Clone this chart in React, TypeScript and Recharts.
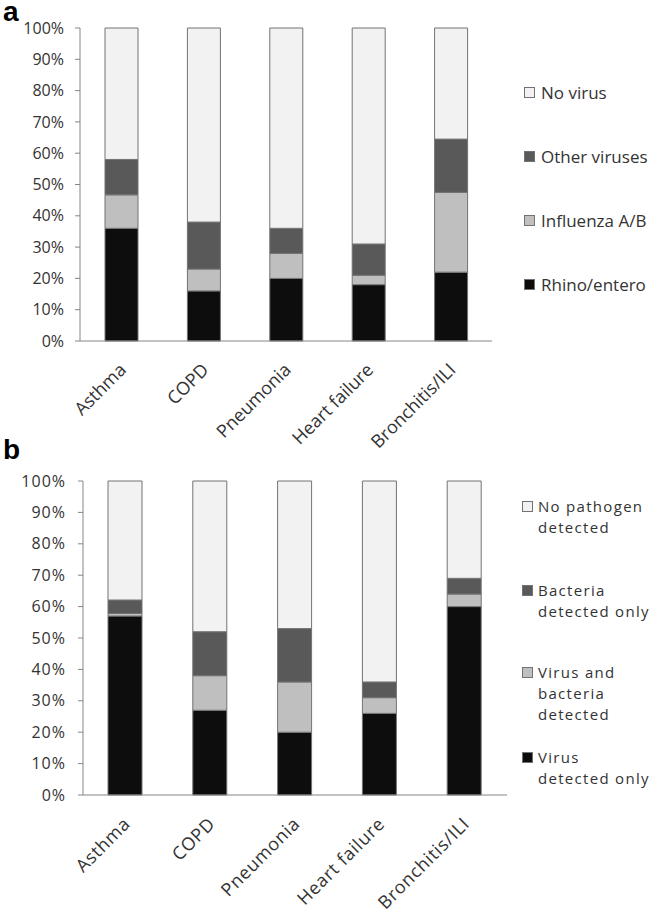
import React from "react";
import { BarChart, Bar, XAxis, YAxis } from "recharts";

const categories = ["Asthma", "COPD", "Pneumonia", "Heart failure", "Bronchitis/ILI"];

// panel a: virus type, percent of patients
const rhinoEntero = [36, 16, 20, 18, 22];
const influenzaAB = [10.7, 7, 8, 3, 25.5];
const otherViruses = [11.3, 15, 8, 10, 17];
const noVirus = [42, 62, 64, 69, 35.5];

// panel b: pathogen detection
const virusOnly = [57, 27, 20, 26, 60];
const virusAndBacteria = [0.8, 11, 16, 5, 4];
const bacteriaOnly = [4.3, 14, 17, 5, 5];
const noPathogen = [37.9, 48, 47, 64, 31];

const yTicks = [0, 10, 20, 30, 40, 50, 60, 70, 80, 90, 100];
const boundaryTicks = [0, 1, 2, 3, 4, 5];

const seriesA = [
  { key: "rhino", name: "Rhino/entero", values: rhinoEntero, color: "#0d0d0d" },
  { key: "flu", name: "Influenza A/B", values: influenzaAB, color: "#bfbfbf" },
  { key: "other", name: "Other viruses", values: otherViruses, color: "#595959" },
  { key: "none", name: "No virus", values: noVirus, color: "#f2f2f2" },
];

const seriesB = [
  { key: "vo", name: ["Virus", "detected only"], values: virusOnly, color: "#0d0d0d" },
  { key: "vb", name: ["Virus and", "bacteria", "detected"], values: virusAndBacteria, color: "#bfbfbf" },
  { key: "bo", name: ["Bacteria", "detected only"], values: bacteriaOnly, color: "#595959" },
  { key: "np", name: ["No pathogen", "detected"], values: noPathogen, color: "#f2f2f2" },
];

const font = "'Open Sans', sans-serif";
const axisColor = "#868686";
const textColor = "#333";

function toRows(series: { key: string; values: number[] }[]) {
  return categories.map((cat, i) => {
    const row: Record<string, string | number> = { cat, idx: i + 0.5 };
    series.forEach((s) => (row[s.key] = s.values[i]));
    return row;
  });
}

function Panel({
  series,
  height,
  top,
  yAxisW,
  right,
  barSize,
  spacing,
  xSpacing,
  yMargin,
}: {
  series: { key: string; color: string; values: number[] }[];
  height: number;
  top: number;
  yAxisW: number;
  right: number;
  barSize: number;
  spacing: number;
  xSpacing: number;
  yMargin: number;
}) {
  const data = toRows(series);
  const yTickStyle = { fontFamily: font, fontSize: 16, fill: textColor, letterSpacing: spacing };
  const xTickStyle = { fontFamily: font, fontSize: 18, fill: textColor, letterSpacing: xSpacing };
  return (
    <BarChart
      width={653}
      height={height}
      data={data}
      margin={{ top, right, bottom: 0, left: 0 }}
      barSize={barSize}
    >
      <XAxis
        xAxisId="bounds"
        type="number"
        dataKey="idx"
        domain={[0, 5]}
        ticks={boundaryTicks}
        height={0}
        tick={false}
        tickSize={5}
        axisLine={false}
        stroke={axisColor}
      />
      <XAxis
        dataKey="cat"
        interval={0}
        height={119}
        angle={-45}
        textAnchor="end"
        tickLine={false}
        axisLine={{ stroke: axisColor }}
        tick={{ ...xTickStyle, dx: -3 }}
        tickMargin={15}
      />
      <YAxis
        width={yAxisW}
        domain={[0, 100]}
        ticks={yTicks}
        tickFormatter={(v) => `${v}%`}
        tickSize={5}
        tickMargin={yMargin}
        stroke={axisColor}
        tick={yTickStyle}
        interval={0}
      />
      {series.map((s) => (
        <Bar
          key={s.key}
          dataKey={s.key}
          stackId="s"
          fill={s.color}
          stroke="#737373"
          strokeWidth={1}
          isAnimationActive={false}
        />
      ))}
    </BarChart>
  );
}

function LegendA() {
  const items = [...seriesA].reverse();
  return (
    <div style={{ position: "absolute", left: 524, top: 80, fontFamily: font, fontSize: 17, color: textColor }}>
      {items.map((s) => (
        <div key={s.key} style={{ display: "flex", alignItems: "center", height: 24, marginBottom: 40 }}>
          <span
            style={{
              width: 11,
              height: 11,
              background: s.color,
              border: "1px solid #737373",
              marginRight: 6,
              boxSizing: "border-box",
            }}
          />
          <span>{s.name}</span>
        </div>
      ))}
    </div>
  );
}

function LegendB() {
  const items = [...seriesB].reverse();
  const tops = [496, 580, 662, 747];
  return (
    <>
      {items.map((s, i) => (
        <div
          key={s.key}
          style={{
            position: "absolute",
            left: 522,
            top: tops[i],
            fontFamily: font,
            fontSize: 15,
            letterSpacing: 1.3,
            lineHeight: "21px",
            color: textColor,
            display: "flex",
          }}
        >
          <span
            style={{
              width: 11,
              height: 11,
              background: s.color,
              border: "1px solid #737373",
              marginRight: 5,
              marginTop: 5,
              boxSizing: "border-box",
              flex: "none",
            }}
          />
          <div>
            {s.name.map((line) => (
              <div key={line}>{line}</div>
            ))}
          </div>
        </div>
      ))}
    </>
  );
}

const panelLabel: React.CSSProperties = {
  position: "absolute",
  left: 3,
  fontFamily: "'Liberation Sans', Arial, sans-serif",
  fontWeight: 700,
  fontSize: 28,
  lineHeight: "24px",
};

export default function App() {
  return (
    <div style={{ position: "absolute", left: 0, top: 0, width: 653, height: 914, background: "#fff" }}>
      <div style={{ position: "absolute", left: 0, top: 0 }}>
        <Panel series={seriesA} height={460} top={28} yAxisW={80} right={161} barSize={33} spacing={0} xSpacing={0} yMargin={11} />
      </div>
      <LegendA />
      <div style={{ position: "absolute", left: 0, top: 440 }}>
        <Panel series={seriesB} height={474} top={41} yAxisW={83} right={146} barSize={34} spacing={1} xSpacing={0.7} yMargin={12} />
      </div>
      <LegendB />
      <div style={{ ...panelLabel, top: 0 }}>a</div>
      <div style={{ ...panelLabel, top: 438 }}>b</div>
    </div>
  );
}
